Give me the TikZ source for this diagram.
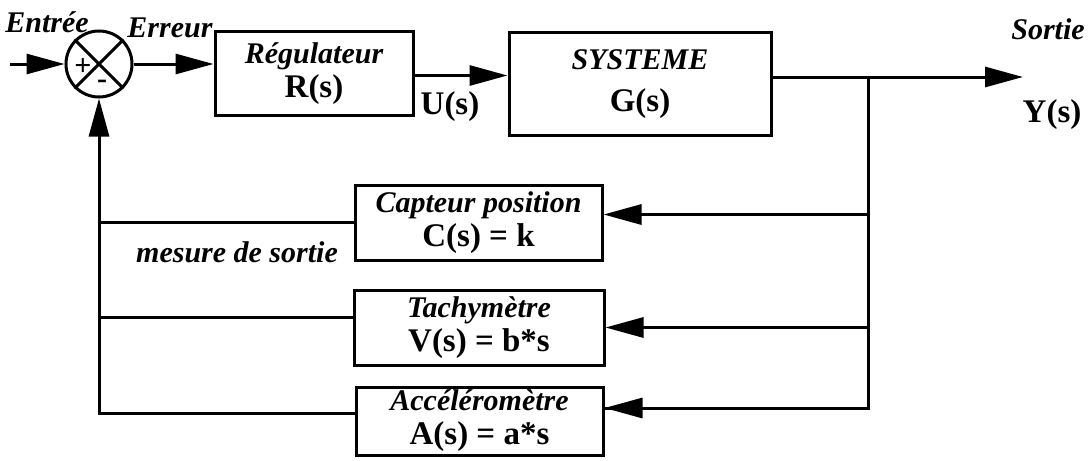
\documentclass[tikz,border=0pt]{standalone}
\usepackage{fontspec}
\setmainfont{Liberation Serif}
\usetikzlibrary{positioning,arrows.meta,calc}
\newcommand{\titrebloc}[1]{{\fontsize{30}{33}\selectfont\itshape #1}}
\tikzset{
  bloc/.style={
    draw,
    line width=3pt,
    align=center,
    inner sep=0pt,
    font=\fontsize{33}{34}\selectfont\bfseries
  },
  etiquette/.style={
    font=\fontsize{30}{33}\selectfont\bfseries\itshape
  },
  signal/.style={
    font=\fontsize{33}{34}\selectfont\bfseries
  },
  ligne/.style={
    line width=3pt
  },
  fleche/.style={
    ligne,
    -{Triangle[length=38pt,width=20pt]}
  }
}
\begin{document}
\begin{tikzpicture}[x=1pt,y=-1pt]
  \useasboundingbox (0,0) rectangle (1091,460);

  % Comparateur
  \node[circle, draw, line width=3pt, minimum size=66pt, inner sep=0pt] (som) at (99,64) {};
  \draw[ligne] (som.north west) -- (som.south east);
  \draw[ligne] (som.north east) -- (som.south west);
  \node[signal, font=\fontsize{30}{30}\selectfont\bfseries] (plus) at (83,67) {+};
  \node[signal, font=\fontsize{30}{30}\selectfont\bfseries] (moins) at (102,84) {-};

  % Chaine directe
  \node[bloc, minimum width=198pt, minimum height=83pt] (reg) at (314,73.5)
    {\titrebloc{Régulateur}\\ R(s)};
  \node[bloc, minimum width=262pt, minimum height=102pt] (sys) at (640,84)
    {\titrebloc{SYSTEME}\\[8pt] G(s)};

  \coordinate (entree) at (10,64);
  \coordinate (sortie) at (1023,77);
  \coordinate (noeud) at (868,77);
  \coordinate (regout) at ([yshift=-2pt]reg.east);

  \draw[fleche] (entree) -- (som.west);
  \draw[fleche] (som.east) -- (som.east -| reg.west);
  \draw[fleche] (regout) -- (regout -| sys.west);
  \draw[fleche] (sortie -| sys.east) -- (sortie);

  \node[etiquette] (lentree) at (47,22) {Entrée};
  \node[etiquette] (lerreur) at (170,28) {Erreur};
  \node[signal] (lu) at (450,107) {U(s)};
  \node[etiquette] (lsortie) at (1048,29) {Sortie};
  \node[signal] (ly) at (1052,115) {Y(s)};

  % Capteurs
  \node[bloc, minimum width=247pt, minimum height=75pt] (cap) at (478.5,222.5)
    {\titrebloc{Capteur position}\\ C(s) = k};
  \node[bloc, minimum width=250pt, minimum height=75pt] (tach) at (479,327.5)
    {\titrebloc{Tachymètre}\\ V(s) = b*s};
  \node[bloc, minimum width=247pt, minimum height=68pt] (acc) at (479.5,421)
    {\titrebloc{Accéléromètre}\\ A(s) = a*s};

  \coordinate (capin) at ([yshift=8pt]cap.east);
  \coordinate (accin) at ([yshift=13pt]acc.east);
  \coordinate (tachout) at ([yshift=10pt]tach.west);
  \coordinate (accout) at ([yshift=8pt]acc.west);

  % Retours
  \draw[ligne] (noeud) |- (accin);
  \draw[fleche] (noeud |- capin) -- (capin);
  \draw[fleche] (noeud |- tach.east) -- (tach.east);
  \draw[fleche] (noeud |- accin) -- (accin);

  \draw[fleche] (accout) -| (som.south);
  \draw[ligne] (cap.west) -- (cap.west -| som.south);
  \draw[ligne] (tachout) -- (tachout -| som.south);

  \node[etiquette] (lmesure) at (237,252) {mesure de sortie};
\end{tikzpicture}
\end{document}
